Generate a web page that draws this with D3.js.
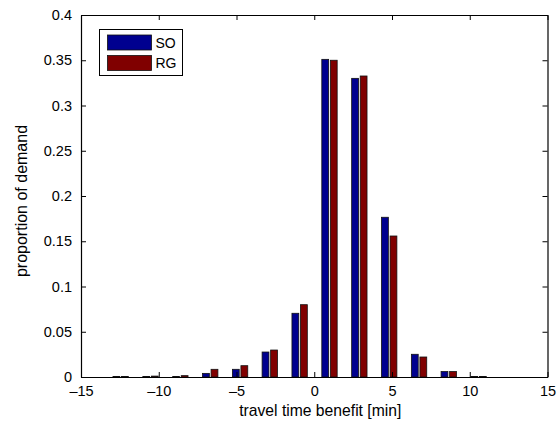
<!DOCTYPE html>
<html>
<head>
<meta charset="utf-8">
<script src="https://cdn.jsdelivr.net/npm/d3@7"></script>
<style>
  body { margin: 0; background: #fff; }
  svg { font-family: "Liberation Sans", Arial, sans-serif; }
</style>
</head>
<body>
<div id="chart-area"></div>
<script>
// Bin centres of the histogram (min)
const binCenters = [-12.45, -10.53, -8.61, -6.69, -4.77, -2.86, -0.94, 0.98, 2.90, 4.82, 6.74, 8.65, 10.57];
const seriesNames = ["SO", "RG"];
const soValues = [0.0005, 0.0005, 0.0005, 0.004, 0.0085, 0.0276, 0.0704, 0.351, 0.330, 0.1765, 0.0251, 0.0060, 0.0005];
const rgValues = [0.0005, 0.0010, 0.0015, 0.0085, 0.0125, 0.0298, 0.0799, 0.350, 0.3326, 0.1558, 0.0221, 0.0060, 0.0005];
const xTicks = [-15, -10, -5, 0, 5, 10, 15];
const yTicks = [0, 0.05, 0.1, 0.15, 0.2, 0.25, 0.3, 0.35, 0.4];
const colors = ["#00008f", "#800000"];

const margin = { left: 81, right: 10.5, top: 15, bottom: 52 };
const width = 558 - margin.left - margin.right;
const height = 429 - margin.top - margin.bottom;

const svg = d3.select("#chart-area")
    .append("svg")
    .attr("width", 558)
    .attr("height", 429)
    .append("g")
    .attr("transform", `translate(${margin.left}, ${margin.top})`);

const x = d3.scaleLinear().domain([-15, 15]).range([0, width]);
const y = d3.scaleLinear().domain([0, 0.4]).range([height, 0]);

// MATLAB-style grouped bars: group width 2/3.5 of bin spacing
const spacing = binCenters[1] - binCenters[0];
const groupWidth = spacing * 2 / 3.5;
const barW = groupWidth / 2 * 0.8;
const offsets = [-groupWidth / 4, groupWidth / 4];

const series = [soValues, rgValues];
series.forEach((vals, s) => {
    svg.append("g")
        .selectAll("rect")
        .data(vals.map((v, i) => ({ c: binCenters[i], v: v })))
        .enter().append("rect")
        .attr("x", d => x(d.c + offsets[s] - barW / 2))
        .attr("width", x(barW) - x(0))
        .attr("y", d => y(d.v))
        .attr("height", d => y(0) - y(d.v))
        .attr("fill", colors[s])
        .attr("stroke", "#111")
        .attr("stroke-width", 0.8);
});

// Axes with inward ticks on all sides
const fmt = d => d === 0 ? "0" : String(+d.toFixed(2));
const xFmt = d => d < 0 ? "\u2013" + Math.abs(d) : String(d);

svg.append("g")
    .attr("transform", `translate(0, ${height})`)
    .call(d3.axisBottom(x).tickValues(xTicks).tickFormat(xFmt).tickSizeInner(-5).tickSizeOuter(0).tickPadding(9))
    .call(g => g.selectAll("text").attr("font-size", 14.5).attr("fill", "#000"));

svg.append("g")
    .call(d3.axisLeft(y).tickValues(yTicks).tickFormat(fmt).tickSizeInner(-5).tickSizeOuter(0).tickPadding(9))
    .call(g => g.selectAll("text").attr("font-size", 14.5).attr("fill", "#000"));

svg.append("g")
    .call(d3.axisTop(x).tickValues(xTicks).tickFormat("").tickSizeInner(-5).tickSizeOuter(0));

svg.append("g")
    .attr("transform", `translate(${width}, 0)`)
    .call(d3.axisRight(y).tickValues(yTicks).tickFormat("").tickSizeInner(-5).tickSizeOuter(0));

svg.selectAll(".domain").attr("stroke", "#000").attr("stroke-width", 1.2);
svg.selectAll(".tick line").attr("stroke", "#000");

// Axis labels
svg.append("text")
    .attr("x", width / 2 + 6)
    .attr("y", height + 39)
    .attr("text-anchor", "middle")
    .attr("font-size", 15.7)
    .text("travel time benefit [min]");

svg.append("text")
    .attr("transform", "rotate(-90)")
    .attr("x", -height / 2 - 5)
    .attr("y", -margin.left + 27)
    .attr("text-anchor", "middle")
    .attr("font-size", 16)
    .text("proportion of demand");

// Legend
const legend = svg.append("g")
    .attr("transform", "translate(18.5, 14.5)");

legend.append("rect")
    .attr("width", 83)
    .attr("height", 46)
    .attr("fill", "#fff")
    .attr("stroke", "#000")
    .attr("stroke-width", 1);

const entries = legend.selectAll(".legend-entry")
    .data(seriesNames)
    .enter().append("g")
    .attr("transform", (d, i) => `translate(8, ${5.5 + i * 20.5})`);

entries.append("rect")
    .attr("width", 44)
    .attr("height", 15)
    .attr("fill", (d, i) => colors[i])
    .attr("stroke", "#111")
    .attr("stroke-width", 0.8);

entries.append("text")
    .attr("x", 48)
    .attr("y", 7.5)
    .attr("dy", "0.36em")
    .attr("font-size", 14)
    .text(d => d);
</script>
</body>
</html>
